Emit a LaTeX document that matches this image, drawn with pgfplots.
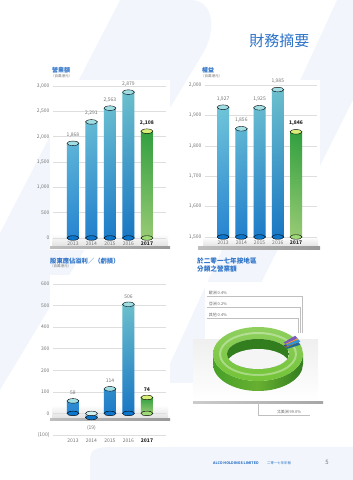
\documentclass[border=0pt]{standalone}
\usepackage{pgfplots}
\pgfplotsset{compat=1.18}
\usepackage{fontspec}
\setmainfont{Noto Sans CJK TC}
\definecolor{titleblue}{RGB}{45,115,200}
\definecolor{tickgray}{RGB}{115,115,115}
\definecolor{bartop}{RGB}{105,200,215}
\definecolor{barbot}{RGB}{12,118,205}
\definecolor{captop}{RGB}{160,222,228}
\definecolor{gtop}{RGB}{45,170,60}
\definecolor{gbot}{RGB}{160,218,120}
\definecolor{gcap}{RGB}{215,238,120}
\definecolor{paleblue}{RGB}{242,246,252}
\definecolor{ringtop}{RGB}{115,195,55}
\definecolor{ringside}{RGB}{70,160,40}
\definecolor{ringdark}{RGB}{50,125,30}
\definecolor{sliceblue}{RGB}{50,150,220}
\definecolor{sliceorange}{RGB}{240,150,50}
\definecolor{slicepurple}{RGB}{120,90,190}
\pgfplotsset{
  mybar/.style={
    scale only axis, clip=false, anchor=south west,
    axis line style={draw=none}, major tick style={draw=none},
    ymajorgrids, grid style={black!13, line width=0.5pt},
    xtick={0,1,2,3,4}, xticklabels={2013,2014,2015,2016,\textcolor{black!85}{\textbf{2017}}},
    tick label style={font=\fontsize{5}{6}\selectfont, text=tickgray},
    /pgf/number format/assume math mode=true,
  },
  bluebar/.style={ybar, bar width=12pt, bar shift=0pt, draw=none, top color=bartop, bottom color=barbot,
    nodes near coords, point meta=explicit symbolic,
    nodes near coords style={font=\fontsize{5}{6}\selectfont, text=tickgray, yshift=2.5pt}},
  greenbar/.style={ybar, bar width=12pt, bar shift=0pt, draw=none, top color=gtop, bottom color=gbot,
    nodes near coords, point meta=explicit symbolic,
    nodes near coords style={font=\fontsize{5}{6}\selectfont\bfseries, text=black!85, yshift=2.5pt}},
  gloss/.style={ybar, bar width=12pt, bar shift=0pt, draw=none, left color=white, middle color=white, right color=black!70, fill opacity=0.12},
  cap/.style={only marks, mark=*, mark size=6pt, mark options={draw=none, fill=#1, yscale=0.38}},
}
\newcommand\ringslice[4]{% start angle, end angle, colour, vertical offset
  \fill[#3]
    ({\cx+31*cos(#1)},{\cy+#4+15*sin(#1)}) -- ({\cx+45*cos(#1)},{\cy+#4+27*sin(#1)})
    arc[start angle=#1, end angle=#2, x radius=45, y radius=27]
    -- ({\cx+31*cos(#2)},{\cy+#4+15*sin(#2)})
    arc[start angle=#2, end angle=#1, x radius=31, y radius=15] -- cycle;}
\begin{document}
\begin{tikzpicture}[x=1pt,y=1pt]
\useasboundingbox (0,0) rectangle (353,480);
% background decoration
\fill[paleblue] (120,480) -- (190,480) .. controls (215,480) and (215,450) .. (205,430) -- (0,90) -- (0,247) -- cycle;
\fill[paleblue] (337,480) -- (353,480) -- (353,380) -- (215,105) .. controls (208,97) and (200,97) .. (190,97) -- (167,97) -- (167,110) -- cycle;
\fill[paleblue] (90,0) -- (90,20) .. controls (90,30) and (95,33) .. (110,33) -- (353,33) -- (353,0) -- cycle;
% white panels
\fill[white] (50,230) rectangle (170,400);
\fill[white] (198,230) rectangle (320,400);
\fill[white] (50,33) rectangle (170,205);
\fill[white] (205,140) rectangle (300,198);
% floors
\shade[top color=white, bottom color=black!12] (52,233) rectangle (168,246);
\shade[left color=black!25, right color=black!40] (50,231) rectangle (170,233.5);
\shade[top color=white, bottom color=black!12] (203,233) rectangle (318,243);
\shade[left color=black!25, right color=black!40] (198,230.5) rectangle (320,233);
\shade[top color=white, bottom color=black!12] (52,61) rectangle (168,75);
\shade[left color=black!25, right color=black!40] (50,59) rectangle (170,61.5);
\shade[top color=black!6, bottom color=white] (193,78) rectangle (318,140);
\shade[left color=black!20, right color=black!35] (193,76) rectangle (323,78.5);

% page title
\node[anchor=east, font=\fontsize{15}{16}\selectfont, text=titleblue] at (313,439) {財務摘要};

% chart titles
\node[anchor=west, inner sep=0, font=\fontsize{6}{7}\selectfont\bfseries, text=titleblue] at (52,410) {營業額};
\node[anchor=west, inner sep=0, font=\fontsize{3.5}{4}\selectfont, text=tickgray] at (51,404) {（百萬港元）};
\node[anchor=west, inner sep=0, font=\fontsize{6}{7}\selectfont\bfseries, text=titleblue] at (202,410) {權益};
\node[anchor=west, inner sep=0, font=\fontsize{3.5}{4}\selectfont, text=tickgray] at (201,404) {（百萬港元）};
\node[anchor=west, inner sep=0, font=\fontsize{6.3}{7}\selectfont\bfseries, text=titleblue] at (50,219) {股東應佔溢利／（虧損）};
\node[anchor=west, inner sep=0, font=\fontsize{3.5}{4}\selectfont, text=tickgray] at (50,214) {（百萬港元）};
\node[anchor=west, inner sep=0, font=\fontsize{6.6}{7}\selectfont\bfseries, text=titleblue] at (197,219) {於二零一七年按地區};
\node[anchor=west, inner sep=0, font=\fontsize{6.6}{7}\selectfont\bfseries, text=titleblue] at (197,211.5) {分類之營業額};

% Chart 1: turnover
\begin{axis}[mybar, at={(53pt,242pt)}, width=113pt, height=152pt,
  xmin=-1.08, xmax=5.03, ymin=0, ymax=3000, ytick={0,500,...,3000}]
\addplot[cap=barbot] coordinates {(0,0)(1,0)(2,0)(3,0)};
\addplot[cap=gbot] coordinates {(4,0)};
\addplot[bluebar] coordinates {(0,1868)[{1,868}] (1,2291)[{2,291}] (2,2563)[{2,563}] (3,2879)[{2,879}]};
\addplot[greenbar] coordinates {(4,2108)[{2,108}]};
\addplot[gloss] coordinates {(0,1868)(1,2291)(2,2563)(3,2879)(4,2108)};
\addplot[cap=captop] coordinates {(0,1868)(1,2291)(2,2563)(3,2879)};
\addplot[cap=gcap] coordinates {(4,2108)};
\end{axis}

% Chart 2: equity
\begin{axis}[mybar, at={(205pt,243pt)}, width=112pt, height=152pt,
  xmin=-0.99, xmax=5.15, ymin=1500, ymax=2000, ytick={1500,1600,...,2000},
  y coord trafo/.code={\pgfmathparse{#1-1500}},
  y coord inv trafo/.code={\pgfmathparse{#1+1500}}]
\addplot[cap=barbot] coordinates {(0,1500)(1,1500)(2,1500)(3,1500)};
\addplot[cap=gbot] coordinates {(4,1500)};
\addplot[bluebar] coordinates {(0,1927)[{1,927}] (1,1856)[{1,856}] (2,1925)[{1,925}] (3,1985)[{1,985}]};
\addplot[greenbar] coordinates {(4,1846)[{1,846}]};
\addplot[gloss] coordinates {(0,1927)(1,1856)(2,1925)(3,1985)(4,1846)};
\addplot[cap=captop] coordinates {(0,1927)(1,1856)(2,1925)(3,1985)};
\addplot[cap=gcap] coordinates {(4,1846)};
\end{axis}

% Chart 3: profit/(loss)
\begin{axis}[mybar, at={(53pt,45pt)}, width=113pt, height=151pt,
  xmin=-1.08, xmax=5.03, ymin=-100, ymax=600, ytick={-100,0,...,600},
  yticklabels={(100),0,100,200,300,400,500,600}]
\addplot[cap=barbot] coordinates {(0,0)(2,0)(3,0)};
\addplot[cap=gbot] coordinates {(4,0)};
\addplot[cap=barbot] coordinates {(1,-19)};
\addplot[bluebar] coordinates {(0,58)[58] (2,114)[114] (3,506)[506]};
\addplot[ybar, bar width=12pt, bar shift=0pt, draw=none, top color=captop!60, bottom color=barbot!70,
  nodes near coords, point meta=explicit symbolic,
  nodes near coords style={font=\fontsize{5}{6}\selectfont, text=tickgray, anchor=north, yshift=-4pt}]
  coordinates {(1,-19)[(19)]};
\addplot[greenbar] coordinates {(4,74)[74]};
\addplot[gloss] coordinates {(0,58)(2,114)(3,506)(4,74)};
\addplot[cap=captop] coordinates {(0,58)(2,114)(3,506)};
\addplot[cap=captop!50] coordinates {(1,0)};
\addplot[cap=gcap] coordinates {(4,74)};
\end{axis}

% Chart 4: donut of turnover by region (percentages)
\def\cx{258}\def\cy{126}
\pgfmathsetmacro{\pOther}{0.4}
\pgfmathsetmacro{\pAsia}{0.2}
\pgfmathsetmacro{\pEurope}{0.4}
% label lines
\draw[black!25, line width=0.4pt] (207,184) -- (302,184) -- (302,147);
\draw[black!25, line width=0.4pt] (207,173) -- (300,173) -- (300,147);
\draw[black!25, line width=0.4pt] (207,162) -- (298,162) -- (298,147);
\node[anchor=south west, inner sep=0.6pt, font=\fontsize{4}{5}\selectfont, text=black!60] at (208,184.5) {歐洲 0.4\%};
\node[anchor=south west, inner sep=0.6pt, font=\fontsize{4}{5}\selectfont, text=black!60] at (208,173.5) {亞洲 0.2\%};
\node[anchor=south west, inner sep=0.6pt, font=\fontsize{4}{5}\selectfont, text=black!60] at (208,162.5) {其他 0.4\%};
\draw[black!25, line width=0.4pt] (258,78) -- (258,65) -- (310,65);
\node[anchor=south west, inner sep=0.6pt, font=\fontsize{4}{5}\selectfont, text=black!60] at (276,65.5) {北美洲 99.0\%};
% outer wall
\shade[left color=ringside, right color=ringdark, middle color=ringtop!90!black]
  (\cx-45,\cy) arc[start angle=180, end angle=360, x radius=45, y radius=27]
  -- ++(0,-10) arc[start angle=360, end angle=180, x radius=45, y radius=27] -- cycle;
% top surface
\shade[even odd rule, top color=ringtop!80!white, bottom color=ringtop]
  (\cx,\cy) ellipse[x radius=45, y radius=27] (\cx,\cy) ellipse[x radius=31, y radius=15];
\draw[white, opacity=0.35, line width=2pt] (\cx,\cy) ellipse[x radius=38, y radius=21];
% inner wall
\begin{scope}
\clip (\cx,\cy) ellipse[x radius=31, y radius=15];
\fill[ringdark] (\cx,\cy) ellipse[x radius=31, y radius=15];
\fill[black!4] (\cx,\cy-10) ellipse[x radius=31, y radius=15];
\end{scope}
% small slices (angles widened 4x for visibility), raised
\pgfmathsetmacro{\aA}{20}
\pgfmathsetmacro{\aB}{\aA+4*3.6*\pOther}
\pgfmathsetmacro{\aC}{\aB+4*3.6*\pAsia}
\pgfmathsetmacro{\aD}{\aC+4*3.6*\pEurope}
\ringslice{\aA}{\aB}{sliceblue!70!black}{0}
\ringslice{\aB}{\aC}{sliceorange!70!black}{0}
\ringslice{\aC}{\aD}{slicepurple!70!black}{0}
\ringslice{\aA}{\aB}{sliceblue}{3}
\ringslice{\aB}{\aC}{sliceorange}{3}
\ringslice{\aC}{\aD}{slicepurple}{3}

% footer
\node[anchor=west, inner sep=0, font=\fontsize{3.6}{4}\selectfont\bfseries, text=titleblue] at (213,17) {ALCO HOLDINGS LIMITED};
\node[anchor=west, inner sep=0, font=\fontsize{3.4}{4}\selectfont, text=titleblue] at (267,17) {二零一七年年報};
\node[anchor=center, inner sep=0, font=\fontsize{6}{7}\selectfont, text=black!55] at (327,17.5) {5};
\end{tikzpicture}
\end{document}
